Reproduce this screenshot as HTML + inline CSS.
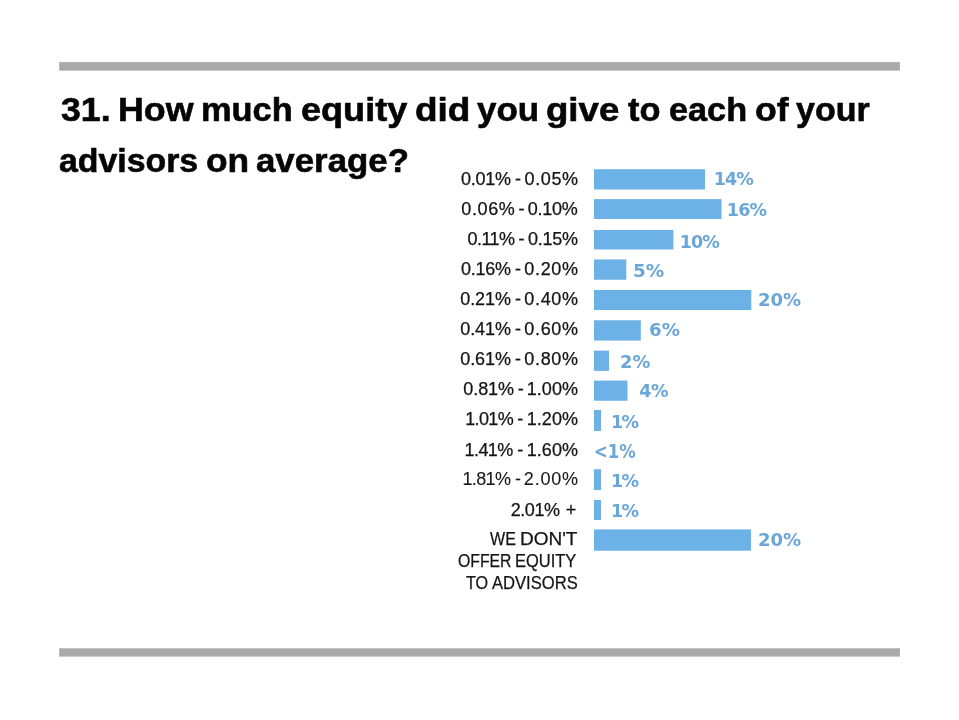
<!DOCTYPE html>
<html lang="en">
<head>
<meta charset="utf-8">
<title>31. How much equity did you give to each of your advisors on average?</title>
<style>
html,body{margin:0;padding:0;background:#fff;}
body{width:959px;height:720px;position:relative;overflow:hidden;font-family:"Liberation Sans",sans-serif;}
h1{margin:0;font-family:"Liberation Sans",sans-serif;font-weight:bold;font-size:33px;line-height:40px;color:#050505;white-space:nowrap;-webkit-text-stroke:0.6px #050505;}
h1 span{position:absolute;height:40px;transform-origin:0 0;}
.row{font-size:18px;color:#141414;-webkit-text-stroke:0.25px #141414;white-space:nowrap;}
.thin{-webkit-text-stroke:0.1px #1a1a1a;color:#1a1a1a;}
.caps{font-size:18.5px;}
.caps span{transform-origin:0 0;}
.row span{position:absolute;height:20px;line-height:20px;}
.bars{position:absolute;left:0;top:0;}
#p9{font-size:19.5px;}
.pct{position:absolute;transform-origin:0 0;height:20px;line-height:20px;font-family:"DejaVu Sans","Liberation Sans",sans-serif;font-weight:bold;font-size:17.5px;color:#6ba6d8;white-space:nowrap;}
</style>
</head>
<body>

<h1><span id="t1w0" style="left:60.78px;top:89.50px;transform:scaleX(1.0804)">31.</span> <span id="t1w1" style="left:117.74px;top:89.50px;transform:scaleX(1.0849)">How</span> <span id="t1w2" style="left:201.38px;top:89.50px;transform:scaleX(1.0416)">much</span> <span id="t1w3" style="left:300.76px;top:89.50px;transform:scaleX(1.0938)">equity</span> <span id="t1w4" style="left:414.70px;top:89.50px;transform:scaleX(1.1194)">did</span> <span id="t1w5" style="left:476.98px;top:89.50px;transform:scaleX(1.0582)">you</span> <span id="t1w6" style="left:545.58px;top:89.50px;transform:scaleX(1.1099)">give</span> <span id="t1w7" style="left:627.94px;top:89.50px;transform:scaleX(1.0400)">to</span> <span id="t1w8" style="left:668.58px;top:89.50px;transform:scaleX(1.0385)">each</span> <span id="t1w9" style="left:754.76px;top:89.50px;transform:scaleX(1.0794)">of</span> <span id="t1w10" style="left:796.16px;top:89.50px;transform:scaleX(1.0307)">your</span>
<span id="t2w0" style="left:59.49px;top:140.70px;transform:scaleX(1.0252)">advisors</span> <span id="t2w1" style="left:205.58px;top:140.70px;transform:scaleX(1.0707)">on</span> <span id="t2w2" style="left:256.47px;top:140.70px;transform:scaleX(1.0550)">average?</span></h1>
<div class="row"><span id="l0a" style="left:460.90px;top:169px;letter-spacing:-0.206px">0.01%</span> <span id="l0h" style="left:515.03px;top:169px">-</span> <span id="l0b" style="left:524.62px;top:169px;letter-spacing:0.588px">0.05%</span></div>
<div class="pct" id="p0" style="left:713.66px;top:169.37px;letter-spacing:-0.940px">14%</div>
<div class="row"><span id="l1a" style="left:461.32px;top:199px;letter-spacing:0.628px">0.06%</span> <span id="l1h" style="left:518.39px;top:199px">-</span> <span id="l1b" style="left:527.78px;top:199px;letter-spacing:-0.242px">0.10%</span></div>
<div class="pct" id="p1" style="left:726.74px;top:199.57px;letter-spacing:-0.756px">16%</div>
<div class="row"><span id="l2a" style="left:467.62px;top:229px;letter-spacing:-0.580px">0.11%</span> <span id="l2h" style="left:518.39px;top:229px">-</span> <span id="l2b" style="left:527.88px;top:229px;letter-spacing:-0.228px">0.15%</span></div>
<div class="pct" id="p2" style="left:679.80px;top:231.57px;letter-spacing:-0.968px">10%</div>
<div class="row"><span id="l3a" style="left:460.90px;top:259px;letter-spacing:-0.250px">0.16%</span> <span id="l3h" style="left:514.91px;top:259px">-</span> <span id="l3b" style="left:524.30px;top:259px;letter-spacing:0.666px">0.20%</span></div>
<div class="pct" id="p3" style="left:632.65px;top:261.02px;transform:scaleX(1.0495)">5%</div>
<div class="row"><span id="l4a" style="left:460.30px;top:289px;letter-spacing:-0.102px">0.21%</span> <span id="l4h" style="left:514.91px;top:289px">-</span> <span id="l4b" style="left:524.30px;top:289px;letter-spacing:0.666px">0.40%</span></div>
<div class="pct" id="p4" style="left:757.94px;top:290.12px;transform:scaleX(1.0295)">20%</div>
<div class="row"><span id="l5a" style="left:460.30px;top:319px;letter-spacing:-0.102px">0.41%</span> <span id="l5h" style="left:514.91px;top:319px">-</span> <span id="l5b" style="left:524.30px;top:319px;letter-spacing:0.666px">0.60%</span></div>
<div class="pct" id="p5" style="left:648.52px;top:320.22px;transform:scaleX(1.0399)">6%</div>
<div class="row"><span id="l6a" style="left:460.30px;top:349px;letter-spacing:-0.102px">0.61%</span> <span id="l6h" style="left:514.91px;top:349px">-</span> <span id="l6b" style="left:524.30px;top:349px;letter-spacing:0.666px">0.80%</span></div>
<div class="pct" id="p6" style="left:619.64px;top:351.57px;transform:scaleX(1.0201)">2%</div>
<div class="row"><span id="l7a" style="left:463.28px;top:379px;letter-spacing:-0.072px">0.81%</span> <span id="l7h" style="left:517.87px;top:379px">-</span> <span id="l7b" style="left:526.66px;top:379px;letter-spacing:0.074px">1.00%</span></div>
<div class="pct" id="p7" style="left:639.30px;top:381.27px;letter-spacing:-0.392px">4%</div>
<div class="row"><span id="l8a" style="left:465.26px;top:409px;letter-spacing:-0.652px">1.01%</span> <span id="l8h" style="left:517.18px;top:409px">-</span> <span id="l8b" style="left:526.66px;top:409px;letter-spacing:0.074px">1.20%</span></div>
<div class="pct" id="p8" style="left:610.96px;top:412.22px;letter-spacing:-1.584px">1%</div>
<div class="row"><span id="l9a" style="left:464.62px;top:440px;letter-spacing:-0.588px">1.41%</span> <span id="l9h" style="left:517.18px;top:440px">-</span> <span id="l9b" style="left:526.66px;top:440px;letter-spacing:0.074px">1.60%</span></div>
<div class="pct" id="p9" style="left:593.65px;top:441.72px;transform:scaleX(0.8441)">&lt;1%</div>
<div class="row thin"><span id="l10a" style="left:462.46px;top:469px;letter-spacing:-0.630px">1.81%</span> <span id="l10h" style="left:514.89px;top:469px">-</span> <span id="l10b" style="left:523.83px;top:469px;letter-spacing:0.804px">2.00%</span></div>
<div class="pct" id="p10" style="left:610.96px;top:470.82px;letter-spacing:-1.584px">1%</div>
<div class="row"><span id="l11a" style="left:510.69px;top:500px;letter-spacing:-0.416px">2.01%</span> <span id="l11h" style="left:565.66px;top:500px">+</span></div>
<div class="pct" id="p11" style="left:610.96px;top:501.07px;letter-spacing:-1.584px">1%</div>
<div class="pct" id="p12" style="left:757.80px;top:530.37px;transform:scaleX(1.0308)">20%</div>
<div class="row caps"><span id="m0w0" style="left:490.40px;top:529px;transform:scaleX(0.8676)">WE</span> <span id="m0w1" style="left:520.42px;top:529px;transform:scaleX(1.0276)">DON'T</span> <span id="m1w0" style="left:457.52px;top:550.5px;transform:scaleX(0.8531)">OFFER</span> <span id="m1w1" style="left:514.78px;top:550.5px;transform:scaleX(0.8906)">EQUITY</span> <span id="m2w0" style="left:465.78px;top:572.5px;transform:scaleX(0.8717)">TO</span> <span id="m2w1" style="left:492.22px;top:572.5px;transform:scaleX(0.8968)">ADVISORS</span></div>
<svg class="bars" width="959" height="720" viewBox="0 0 959 720" fill="#6cb2e6"><rect x="594" y="169.20" width="111" height="20.30"/><rect x="594" y="199.10" width="127.5" height="19.90"/><rect x="594" y="230.00" width="79.4" height="19.50"/><rect x="594" y="259.40" width="32.3" height="20.35"/><rect x="594" y="290.00" width="157.3" height="20.00"/><rect x="594" y="320.25" width="46.8" height="20.35"/><rect x="594" y="350.60" width="15" height="20.30"/><rect x="594" y="380.60" width="33.5" height="20.15"/><rect x="594" y="410.00" width="7" height="21.00"/><rect x="594" y="469.20" width="7" height="20.80"/><rect x="594" y="500.00" width="7" height="20.00"/><rect x="594" y="529.40" width="157" height="21.30"/><rect x="59.2" y="62.1" width="840.7" height="8.5" fill="#a9a9a9"/><rect x="59.2" y="648.3" width="840.7" height="8.3" fill="#a9a9a9"/></svg>
</body>
</html>
